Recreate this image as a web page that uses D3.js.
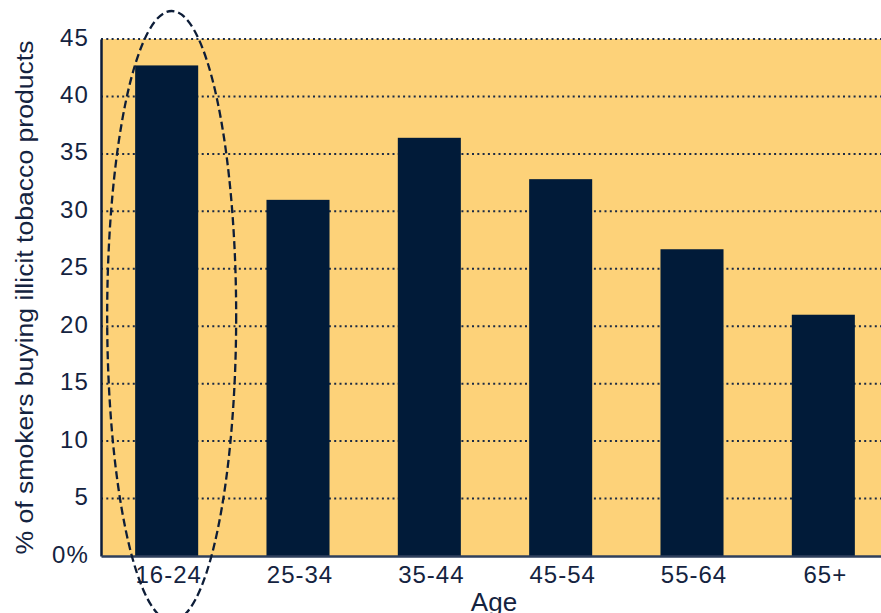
<!DOCTYPE html>
<html><head><meta charset="utf-8">
<script src="https://cdn.jsdelivr.net/npm/d3@7"></script>
<style>body{margin:0;background:#fff;overflow:hidden}svg{display:block}text{font-family:"Liberation Sans",Arial,sans-serif}</style>
</head><body>
<svg id="c" width="881" height="613"></svg>
<script>
const categories = ["16-24","25-34","35-44","45-54","55-64","65+"];
const values = [42.7, 31.0, 36.4, 32.8, 26.7, 21.0];
const yTicks = [0,5,10,15,20,25,30,35,40,45];
const yTickLabels = ["0%","5","10","15","20","25","30","35","40","45"];
const yTitle = "% of smokers buying illicit tobacco products";
const xTitle = "Age";

(function(){
const svg = d3.select("#c");
const mLeft = 101, mTop = 39, mBottom = 556, mRight = 889;
const textColor = "#142340", barColor = "#011b39", bg = "#fdd279";
const ff = '"Liberation Sans",Arial,sans-serif';

const x = d3.scaleBand().domain(categories).range([mLeft, mRight]).paddingInner(0.52).paddingOuter(0.26);
const y = d3.scaleLinear().domain([0,45]).range([mBottom, mTop]);

svg.append("rect").attr("x", mLeft).attr("y", mTop).attr("width", mRight-mLeft).attr("height", mBottom-mTop).attr("fill", bg);

svg.append("g").selectAll("line").data(yTicks.filter(d=>d>0)).join("line")
  .attr("x1", mLeft).attr("x2", mRight).attr("y1", d=>y(d)).attr("y2", d=>y(d))
  .attr("stroke", "#1b2a44").attr("stroke-width", 2).attr("stroke-dasharray", "2,3.3");

svg.append("g").selectAll("rect").data(values).join("rect")
  .attr("x", (d,i)=>x(categories[i])).attr("width", x.bandwidth())
  .attr("y", d=>y(d)).attr("height", d=>y(0)-y(d)).attr("fill", barColor);

const yAxis = d3.axisLeft(y).tickValues(yTicks).tickFormat((d,i)=>yTickLabels[i]).tickSize(0).tickPadding(12);
const gy = svg.append("g").attr("transform", `translate(${mLeft},0)`).call(yAxis);
gy.select(".domain").attr("stroke", "#0d1d38").attr("stroke-width", 2.5);
gy.selectAll("text").attr("font-size", 24).attr("fill", textColor).attr("font-family", ff)
  .attr("dy", "0.25em").attr("letter-spacing", 1.2);

const xAxis = d3.axisBottom(x).tickSize(0).tickPadding(10);
const gx = svg.append("g").attr("transform", `translate(0,${mBottom})`).call(xAxis);
gx.select(".domain").attr("stroke", "#2e3f5c").attr("stroke-width", 2.5);
gx.selectAll("text").attr("font-size", 24).attr("fill", textColor).attr("font-family", ff)
  .attr("letter-spacing", 1).attr("dx", 2);

svg.append("text").attr("transform", `translate(33,297.5) rotate(-90)`)
  .attr("text-anchor","middle").attr("font-size", 23).attr("fill", textColor)
  .attr("textLength", 514).attr("lengthAdjust", "spacingAndGlyphs").text(yTitle);
svg.append("text").attr("x", 494).attr("y", 611).attr("text-anchor","middle")
  .attr("font-size", 26).attr("fill", textColor).text(xTitle);

svg.append("ellipse").attr("cx", x(categories[0]) + x.bandwidth()/2 + 5).attr("cy", 316)
  .attr("rx", 64.5).attr("ry", 305).attr("fill","none")
  .attr("stroke", "#0d1d38").attr("stroke-width", 2.3).attr("stroke-dasharray", "8,4");
})();
</script>
</body></html>
